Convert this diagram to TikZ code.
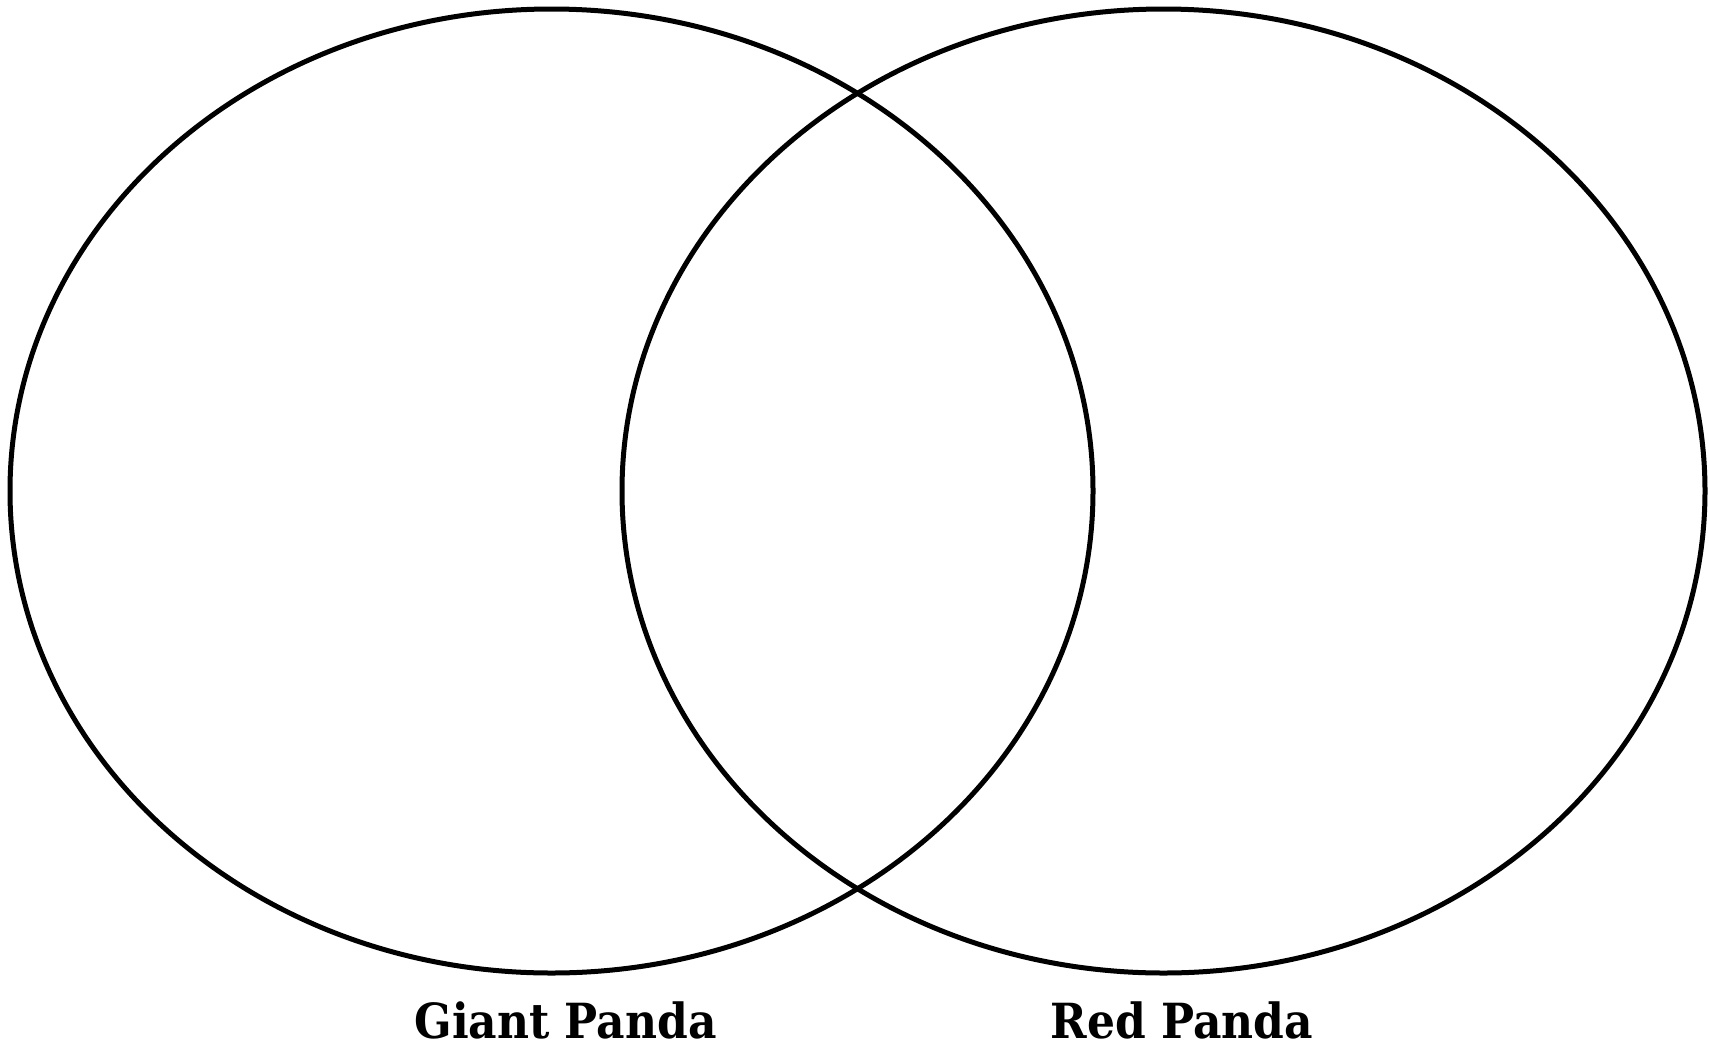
\documentclass[tikz,border=0pt]{standalone}
\usepackage{fontspec}
\setmainfont{DejaVu Serif}
\begin{document}
\begin{tikzpicture}[x=1pt,y=-1pt,
  ring/.style={draw=black,line width=5pt},
  lbl/.style={font=\bfseries\fontsize{44}{50}\selectfont,anchor=base,inner sep=0pt}]
\useasboundingbox (0,0) rectangle (1709,1045);
\draw[ring] (551.5,491) ellipse [x radius=541.5, y radius=482];
\draw[ring] (1163.5,491) ellipse [x radius=541.5, y radius=482];
\node[lbl] (gp) at (565.5,1038) {\scalebox{1}[1.1]{Giant Panda}};
\node[lbl] (rp) at (1182,1038) {\scalebox{1}[1.1]{Red Panda}};
\end{tikzpicture}
\end{document}
